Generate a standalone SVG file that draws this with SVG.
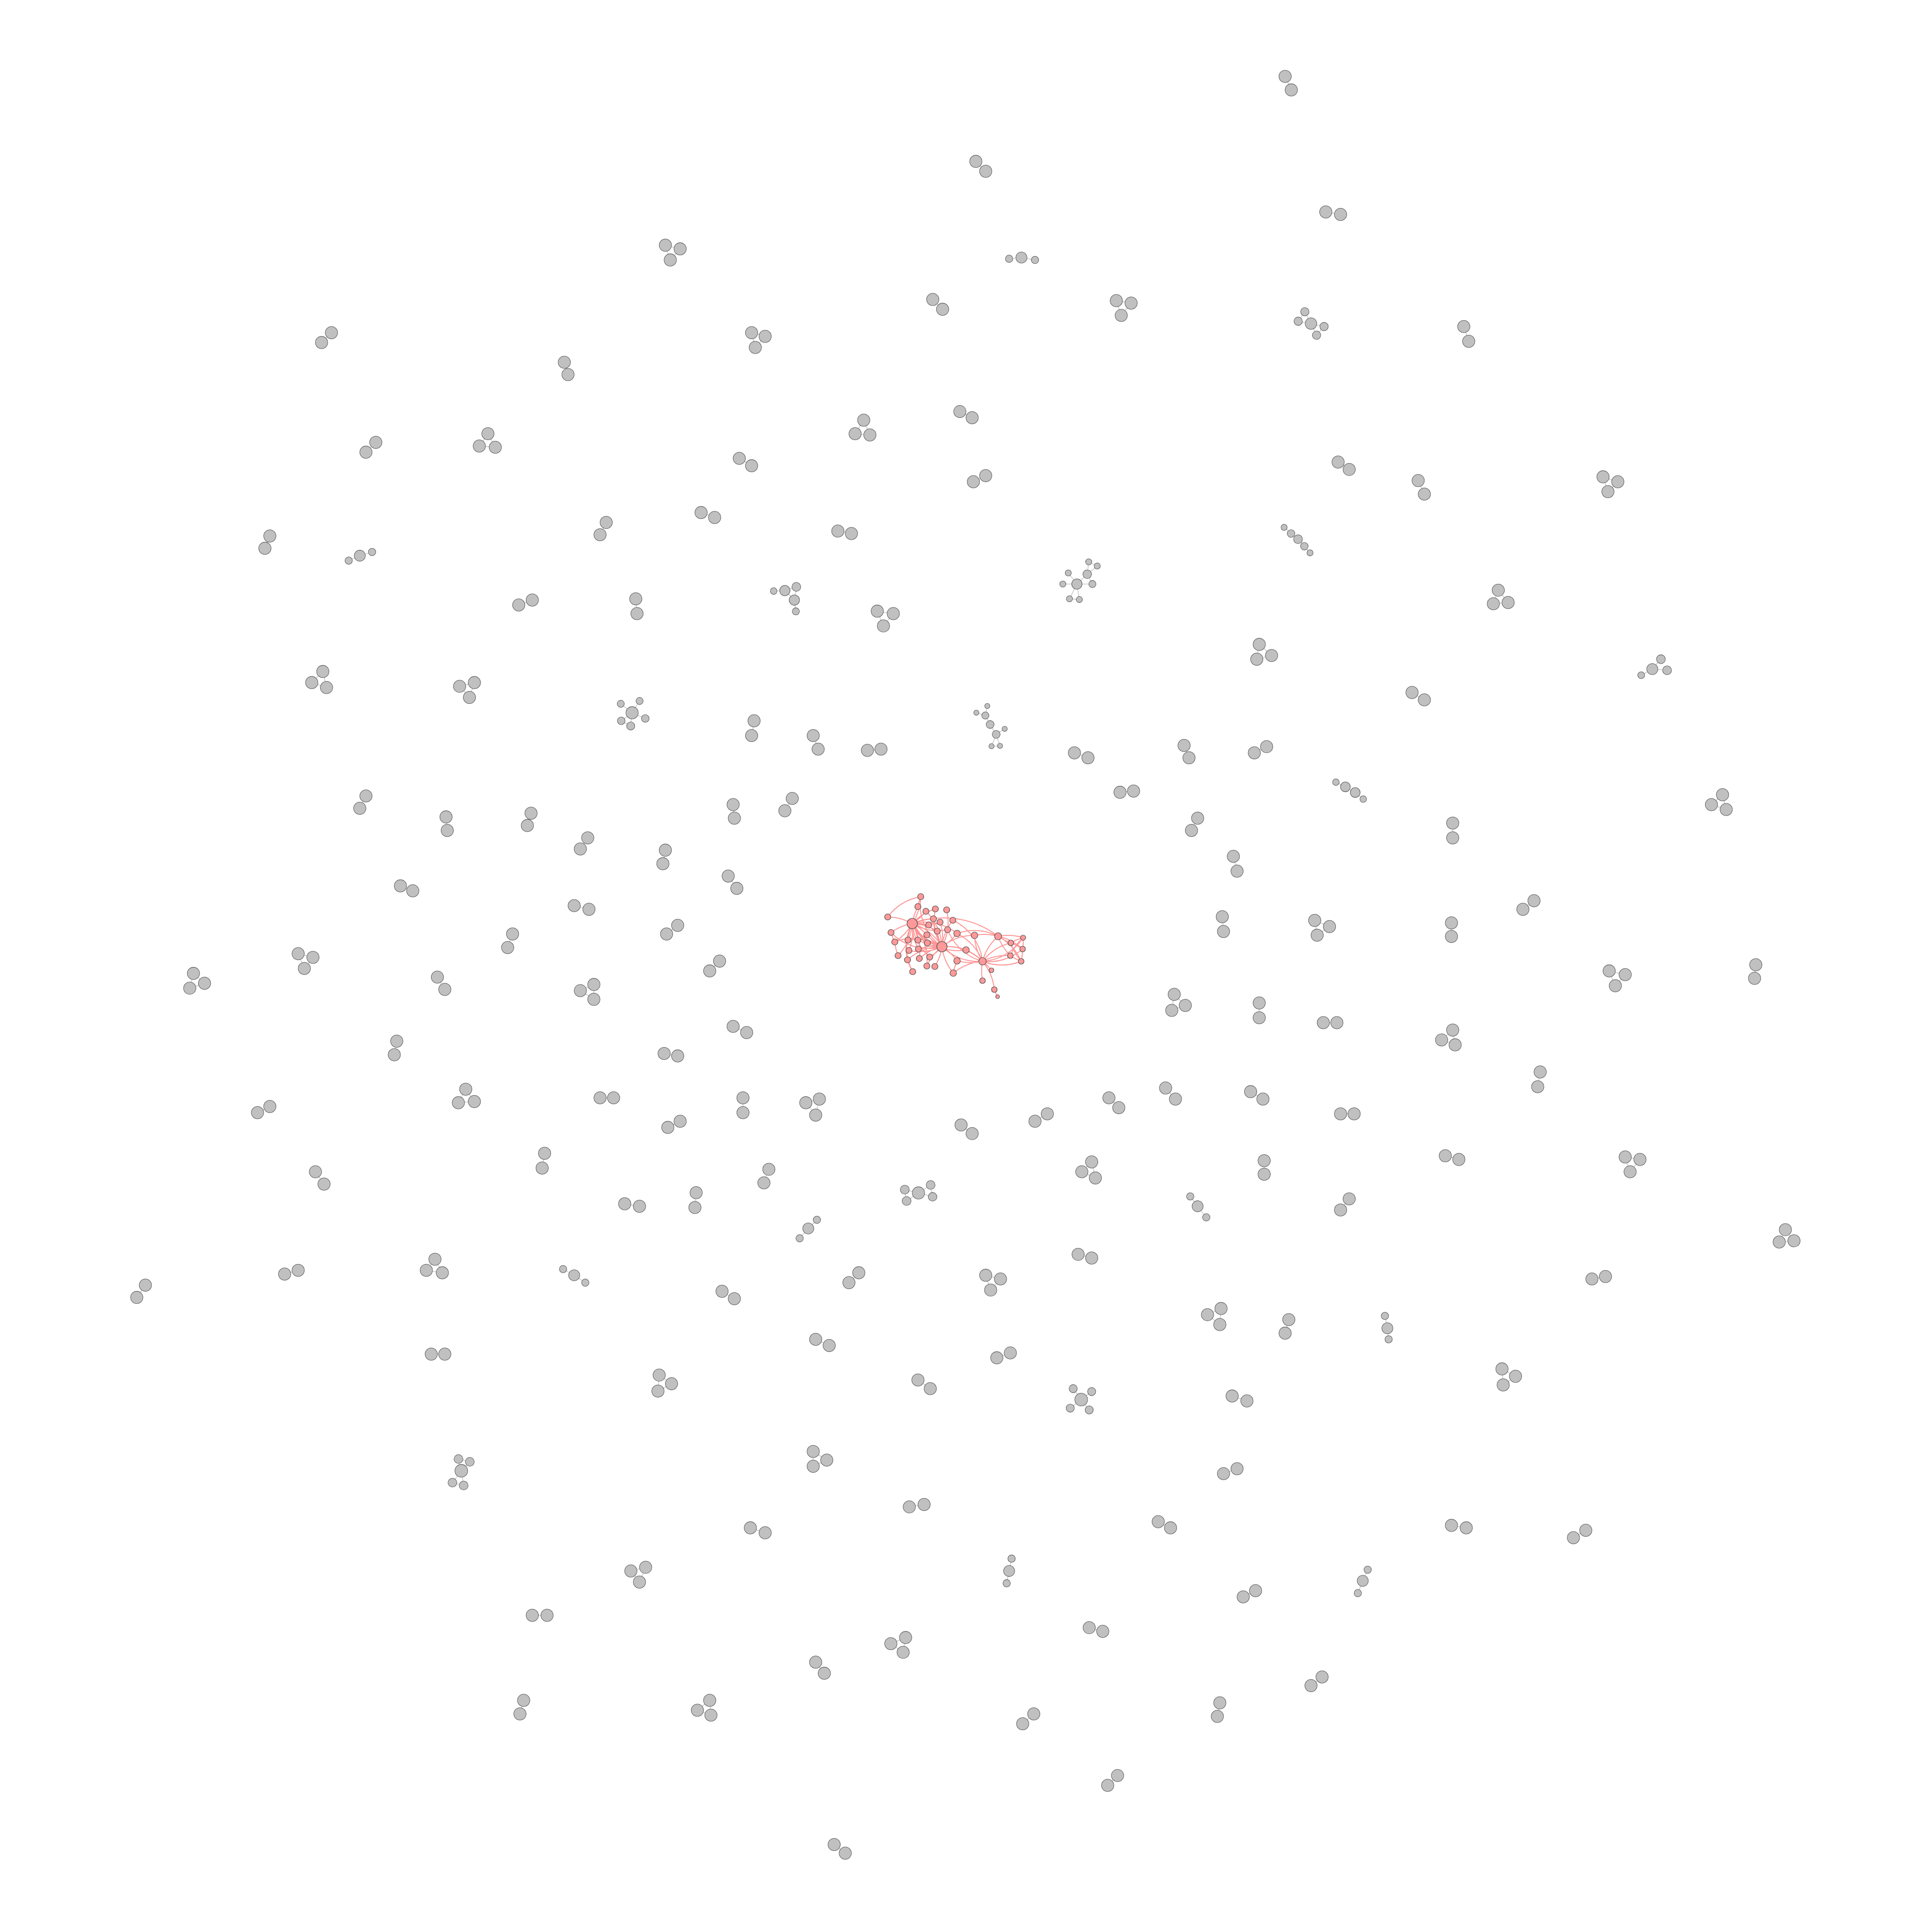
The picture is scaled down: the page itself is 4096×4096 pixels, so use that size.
<svg xmlns="http://www.w3.org/2000/svg" width="4096" height="4096" viewBox="0 0 4096 4096">
<style>
.g{fill:#c0c0c0;stroke:#5a5a5a;stroke-width:0.4}
.ge{fill:none;stroke:#c8c8c8;stroke-width:0.6}
.r{fill:#ff9999;stroke:#4a4a4a;stroke-width:1.2}
.re{fill:none;stroke:#ff9494;stroke-width:2}
</style>
<rect width="4096" height="4096" fill="#ffffff"/>
<g id="connectors">
<g transform="scale(2.61224)">
<path class="ge" d="M1043 62L1048 73M792 131L800 139M1076 172L1088 174M540 199L552 202L544 211ZM819 210L829 209L840 211M906 244L918 246L910 256ZM757 243L765 251
M1059 253L1064 262.6L1053.6 260.7ZM1064 262.6L1074.6 265L1068.5 272ZM1188 265L1192 277M269 270L261 278M610 270L621 273L613 282ZM458 294L461 304M779 334L789 339M701 341L694 352L706 353ZM396 352L389 362L402 363ZM305 359L297 367M600 372L610 378M1086 375L1095 381M800 386L790 391M1151 390L1156 401M1301 387L1313 391L1305 399ZM569 416L580 420M492 424L487 434M680 431L691 433M219 435L215 445M283 455L292 451L302 448
M1042.2 428L1047.8 433L1053.5 437.6L1058.6 443.3L1063.2 448.7
M874 474L867 465M874 474L862.6 474M874 474L886.6 474M874 474L882.4 466M874 474L868 486L876 486.6L874 474M882.4 466L883.6 456L890.5 459.4L882.4 466L886.6 474
M627.9 479.7L637 479.3L646.3 476.3L644.7 487L637 479.3M644.7 487L645.9 496.2
M421 491L432 487M516 486L517 498M712 496L725 498L717 508ZM1216 479L1212 490L1224 489ZM1022 523L1020 535L1032 532ZM262 545L253 554L265 558ZM373 557L385 554L381 566ZM1348 535L1341 543L1353 544M1341 543L1332 548M1146 562L1156 568
M513 578.5L503.8 571.2M513 578.5L519.1 568.9M513 578.5L523.7 583.1M513 578.5L504.2 585L511.9 589.2L513 578.5
M801.3 573L799.7 580.7L792.4 578.4M799.7 580.7L803.6 588L808.5 596L815.4 591.5M808.5 596L804.7 605.6L811.6 605.3L808.5 596
M612 585L610 597M660 597L664 608M704 609L715 608M872 611L883 615M961 605L965 615M1018 611L1028 606M909 643L920 642
M1084.2 634.8L1091.9 638.6L1099.9 643.2L1106.4 648.5
M1398 645L1389 653L1401 657ZM297 646L292 656M431 660L428 670M362 663L363 674M595 653L596 664M643 648L637 658M477 680L471 689M540 690L538 701M972 664L967 674M1179 668L1179 680M1001 695L1004 707M325 719L335 723M591 711L598 721M466 735L478 738M1245 731L1236 738M550 751L541 758M416 758L412 769M992 744L993 756M1067 747L1079 752L1069 759ZM1178 749L1178 760M242 774L254 777L247 786ZM157 790L154 802L166 798ZM355 793L361 803M584 780L576 788M471 804L482 799L482 811ZM1425 783L1424 794M1306 788L1319 791L1311 800ZM953 807L951 820L962 816ZM1022 814L1022 826M595 833L606 838M1074 830L1085 830M1179 836L1170 844L1181 848ZM322 845L320 856M539 855L550 857M1250 870L1248 882M378 884L372 895L385 894ZM219 898L209 903M487 891L498 891M603 891L603 903M654 895L665 892L662 905ZM946 883L954 892M900 891L908 899M1015 886L1025 892M780 913L789 920M850 904L840 910M1088 904L1099 904M542 915L552 910M1173 938L1184 941M1319 939L1331 941L1323 951ZM442 936L440 948M256 951L263 961M624 949L620 960M886 943L878 951L889 956ZM1026 942L1026 953
M734.3 965.5L745.4 968.2L755.3 961.7L756.9 971.3L745.4 968.2L735.8 974.7L734.3 965.5
M507 977L519 979M565 968L564 980M966 971L972 979L979 988M1095 973L1088 982M663 990L656 997L649 1005M1449 998L1444 1008L1456 1007ZM242 1031L231 1034M353 1022L346 1031L359 1033ZM457 1030L466 1035L475 1041M118 1043L111 1053M697 1033L689 1041M800 1035L812 1038L804 1047ZM875 1018L886 1021M1292 1038L1303 1036M586 1048L596 1054M980 1067L991 1062L990 1075ZM1046 1071L1043 1082M1124 1068L1126 1078L1127 1087M662 1087L673 1092M350 1099L361 1099M809 1102L820 1098M1219 1111L1230 1117L1220 1124ZM535 1116L545 1123L534 1129ZM745 1120L755 1127
M877.5 1135.9L871 1127M877.5 1135.9L886 1129.4M877.5 1135.9L868.6 1142.8M877.5 1135.9L884 1144.3
M1000 1133L1012 1137
M372.1 1184.1L381.3 1186.4L374.4 1193.7ZM374.4 1193.7L367.2 1203.3L376.3 1205.6Z
M660 1178L671 1185L660 1190ZM993 1196L1004 1192M738 1223L750 1221M940 1235L950 1240M609 1240L621 1244M1178 1238L1190 1240M1287 1242L1277 1248M821 1265L819 1275L817 1285M1110 1274L1106 1283L1102 1293M524 1272L512 1275L519 1284ZM1009 1296L1019 1291M432 1311L444 1311M884 1321L895 1324M735 1329L723 1334L733 1341ZM662 1349L669 1358M1073 1361L1064 1368M425 1380L422 1391M576 1380L566 1388L577 1392ZM990 1382L988 1393M839 1391L830 1399M907 1441L899 1449M677 1497L686 1504"/>
</g>
<g id="red-edges" class="re">
<path d="M1934 1958A110 110 0 0 0 1952 1901M1934 1958A110 110 0 0 1 1946 1922M1934 1958A110 110 0 0 0 1963 1932M1934 1958A110 110 0 0 1 1983 1927M1934 1958A110 110 0 0 0 1882 1944M1934 1958A110 110 0 0 1 1979 1948M1934 1958A110 110 0 0 0 1993 1955M1934 1958A110 110 0 0 1 1969 1961M1934 1958A110 110 0 0 0 1889 1977M1934 1958A110 110 0 0 1 1987 1974M1934 1958A110 110 0 0 0 2009 1971M1934 1958A110 110 0 0 1 1965 1982M1934 1958A110 110 0 0 1 1897 1997M1934 1958A110 110 0 0 0 1925 1993M1934 1958A110 110 0 0 1 1946 1993M1934 1958A110 110 0 0 0 1966 1999M1934 1958A110 110 0 0 1 1997 2007M1934 1958A110 110 0 0 0 1997 2007M1934 1958A110 110 0 0 1 1927 2015M1934 1958A110 110 0 0 0 1947 2012M1934 1958A110 110 0 0 1 1904 2026M1934 1958A110 110 0 0 0 1971 2029M1934 1958A110 110 0 0 1 1949 2032M1934 1958A110 110 0 0 0 1924 2035M1934 1958A110 110 0 0 1 1965 2048M1934 1958A110 110 0 0 0 1935 2060M1934 1958A110 110 0 0 1 2029 1979M1934 1958A110 110 0 0 0 2048 2014"/>
<path d="M1997 2007A110 110 0 0 1 1952 1901M1997 2007A110 110 0 0 0 1963 1932M1997 2007A110 110 0 0 1 1983 1927M1997 2007A110 110 0 0 0 2007 1929M1997 2007A110 110 0 0 1 1979 1948M1997 2007A110 110 0 0 0 1993 1955M1997 2007A110 110 0 0 1 2020 1951M1997 2007A110 110 0 0 0 1969 1961M1997 2007A110 110 0 0 1 1987 1974M1997 2007A110 110 0 0 0 2009 1971M1997 2007A110 110 0 0 1 1965 1982M1997 2007A110 110 0 0 0 2029 1979M1997 2007A110 110 0 0 1 2066 1983M1997 2007A110 110 0 0 0 1925 1993M1997 2007A110 110 0 0 1 1946 1993M1997 2007A110 110 0 0 0 1966 1999M1997 2007A110 110 0 0 1 2048 2014M1997 2007A110 110 0 0 0 1947 2012M1997 2007A110 110 0 0 1 1971 2029M1997 2007A110 110 0 0 0 1949 2032M1997 2007A110 110 0 0 1 2029 2037M1997 2007A110 110 0 0 0 1965 2048M1997 2007A110 110 0 0 1 1982 2049M1997 2007A110 110 0 0 0 2021 2063M1997 2007A110 110 0 0 1 2083 2038M1997 2007A110 110 0 0 0 2083 2038M1997 2007A110 110 0 0 1 1927 2015M1997 2007A110 110 0 0 0 1924 2035M1997 2007A110 110 0 0 1 1889 1977M1997 2007A110 110 0 0 0 1897 1997"/>
<path d="M2083 2038A110 110 0 0 0 2029 1979M2083 2038A110 110 0 0 1 2066 1983M2083 2038A110 110 0 0 0 2048 2014M2083 2038A110 110 0 0 1 2029 2037M2083 2038A110 110 0 0 0 2021 2063M2083 2038A110 110 0 0 1 2116 1985M2083 2038A110 110 0 0 0 2169 1988M2083 2038A110 110 0 0 1 2143 1999M2083 2038A110 110 0 0 0 2168 2012M2083 2038A110 110 0 0 1 2142 2026M2083 2038A110 110 0 0 0 2165 2038M2083 2038A110 110 0 0 1 2102 2057M2083 2038A110 110 0 0 0 2083 2079M2083 2038A110 110 0 0 1 2108 2098M2083 2038A110 110 0 0 0 2020 1951M2083 2038A110 110 0 0 1 2009 1971"/>
<path d="M2116 1985A110 110 0 0 0 2029 1979M2116 1985A110 110 0 0 0 2066 1983M2116 1985A110 110 0 0 1 2169 1988M2116 1985A110 110 0 0 0 2143 1999M2116 1985A110 110 0 0 1 2168 2012M2116 1985A110 110 0 0 0 2142 2026M2116 1985A110 110 0 0 1 2165 2038M1934 1958A190 190 0 0 1 2116 1985M1882 1944A110 110 0 0 1 1952 1901M2169 1988A110 110 0 0 1 2168 2012M2143 1999A110 110 0 0 0 2165 2038M2169 1988A110 110 0 0 0 2142 2026M2168 2012A110 110 0 0 1 2165 2038M2143 1999A110 110 0 0 1 2168 2012M2169 1988A110 110 0 0 0 2143 1999M2142 2026A110 110 0 0 0 2165 2038M2108 2098A110 110 0 0 0 2115 2113M1889 1977A110 110 0 0 0 1897 1997M1897 1997A110 110 0 0 0 1904 2026M1924 2035A110 110 0 0 0 1935 2060M2021 2063A110 110 0 0 1 2029 2037M1946 1922A110 110 0 0 1 1952 1901"/>
</g>
</g>
<g id="red-cluster" class="r">
<circle id="r1" cx="1952" cy="1901" r="6.5"/>
<circle id="r2" cx="1946" cy="1922" r="6.5"/>
<circle id="r3" cx="1963" cy="1932" r="6.5"/>
<circle id="r4" cx="1983" cy="1927" r="6.5"/>
<circle id="r5" cx="2007" cy="1929" r="6.5"/>
<circle id="r6" cx="1882" cy="1944" r="6.5"/>
<circle id="rA" cx="1934" cy="1958" r="11"/>
<circle id="r8" cx="1979" cy="1948" r="6.5"/>
<circle id="r9" cx="1993" cy="1955" r="6.5"/>
<circle id="r10" cx="2020" cy="1951" r="6.5"/>
<circle id="r11" cx="1969" cy="1961" r="6.5"/>
<circle id="r12" cx="1889" cy="1977" r="6.5"/>
<circle id="r13" cx="1987" cy="1974" r="6.5"/>
<circle id="r14" cx="2009" cy="1971" r="6.5"/>
<circle id="r15" cx="1965" cy="1982" r="6.5"/>
<circle id="r16" cx="2029" cy="1979" r="7"/>
<circle id="r17" cx="2066" cy="1983" r="7"/>
<circle id="rD" cx="2116" cy="1985" r="7.5"/>
<circle id="rE1" cx="2169" cy="1988" r="5.5"/>
<circle id="rE2" cx="2143" cy="1999" r="6"/>
<circle id="r21" cx="1897" cy="1997" r="6.5"/>
<circle id="r22" cx="1925" cy="1993" r="6.5"/>
<circle id="r23" cx="1946" cy="1993" r="6.5"/>
<circle id="r24" cx="1966" cy="1999" r="6.5"/>
<circle id="rB" cx="1997" cy="2007" r="11"/>
<circle id="rE3" cx="2168" cy="2012" r="6"/>
<circle id="r27" cx="2048" cy="2014" r="7"/>
<circle id="r28" cx="1927" cy="2015" r="6.5"/>
<circle id="r29" cx="1947" cy="2012" r="6.5"/>
<circle id="rE4" cx="2142" cy="2026" r="6"/>
<circle id="r31" cx="1904" cy="2026" r="6.5"/>
<circle id="r32" cx="1971" cy="2029" r="6.5"/>
<circle id="r33" cx="1949" cy="2032" r="6.5"/>
<circle id="r34" cx="1924" cy="2035" r="6.5"/>
<circle id="r35" cx="2029" cy="2037" r="7"/>
<circle id="rC" cx="2083" cy="2038" r="8"/>
<circle id="rE5" cx="2165" cy="2038" r="6"/>
<circle id="r38" cx="1965" cy="2048" r="6.5"/>
<circle id="r39" cx="1982" cy="2049" r="6.5"/>
<circle id="r40" cx="2102" cy="2057" r="5"/>
<circle id="r41" cx="1935" cy="2060" r="6.5"/>
<circle id="r42" cx="2021" cy="2063" r="7"/>
<circle id="r43" cx="2083" cy="2079" r="6"/>
<circle id="r44" cx="2108" cy="2098" r="6"/>
<circle id="r45" cx="2115" cy="2113" r="4"/>
</g>
<g id="gray-clusters" class="g" transform="scale(2.61224)">
<g id="c1"><circle cx="1043" cy="62" r="5"/><circle cx="1048" cy="73" r="5"/></g>
<g id="c2"><circle cx="792" cy="131" r="5"/><circle cx="800" cy="139" r="5"/></g>
<g id="c3"><circle cx="1076" cy="172" r="5"/><circle cx="1088" cy="174" r="5"/></g>
<g id="c4"><circle cx="540" cy="199" r="5"/><circle cx="552" cy="202" r="5"/><circle cx="544" cy="211" r="5"/></g>
<g id="c5"><circle cx="819" cy="210" r="3"/><circle cx="829" cy="209" r="4.5"/><circle cx="840" cy="211" r="3"/></g>
<g id="c6"><circle cx="906" cy="244" r="5"/><circle cx="918" cy="246" r="5"/><circle cx="910" cy="256" r="5"/></g>
<g id="c7"><circle cx="757" cy="243" r="5"/><circle cx="765" cy="251" r="5"/></g>
<g id="c8"><circle cx="1059" cy="253" r="3.4"/><circle cx="1053.6" cy="260.7" r="3.4"/><circle cx="1064" cy="262.6" r="4.7"/><circle cx="1074.6" cy="265" r="3.4"/><circle cx="1068.5" cy="272" r="3.4"/></g>
<g id="c9"><circle cx="1188" cy="265" r="5"/><circle cx="1192" cy="277" r="5"/></g>
<g id="c10"><circle cx="269" cy="270" r="5"/><circle cx="261" cy="278" r="5"/></g>
<g id="c11"><circle cx="610" cy="270" r="5"/><circle cx="621" cy="273" r="5"/><circle cx="613" cy="282" r="5"/></g>
<g id="c12"><circle cx="458" cy="294" r="5"/><circle cx="461" cy="304" r="5"/></g>
<g id="c13"><circle cx="779" cy="334" r="5"/><circle cx="789" cy="339" r="5"/></g>
<g id="c14"><circle cx="701" cy="341" r="5"/><circle cx="694" cy="352" r="5"/><circle cx="706" cy="353" r="5"/></g>
<g id="c15"><circle cx="396" cy="352" r="5"/><circle cx="389" cy="362" r="5"/><circle cx="402" cy="363" r="5"/></g>
<g id="c16"><circle cx="305" cy="359" r="5"/><circle cx="297" cy="367" r="5"/></g>
<g id="c17"><circle cx="600" cy="372" r="5"/><circle cx="610" cy="378" r="5"/></g>
<g id="c18"><circle cx="1086" cy="375" r="5"/><circle cx="1095" cy="381" r="5"/></g>
<g id="c19"><circle cx="800" cy="386" r="5"/><circle cx="790" cy="391" r="5"/></g>
<g id="c20"><circle cx="1151" cy="390" r="5"/><circle cx="1156" cy="401" r="5"/></g>
<g id="c21"><circle cx="1301" cy="387" r="5"/><circle cx="1313" cy="391" r="5"/><circle cx="1305" cy="399" r="5"/></g>
<g id="c22"><circle cx="569" cy="416" r="5"/><circle cx="580" cy="420" r="5"/></g>
<g id="c23"><circle cx="492" cy="424" r="5"/><circle cx="487" cy="434" r="5"/></g>
<g id="c24"><circle cx="680" cy="431" r="5"/><circle cx="691" cy="433" r="5"/></g>
<g id="c25"><circle cx="219" cy="435" r="5"/><circle cx="215" cy="445" r="5"/></g>
<g id="c26"><circle cx="283" cy="455" r="3"/><circle cx="292" cy="451" r="4.5"/><circle cx="302" cy="448" r="3"/></g>
<g id="c27"><circle cx="1042.2" cy="428" r="2.5"/><circle cx="1047.8" cy="433" r="3.1"/><circle cx="1053.5" cy="437.6" r="3.6"/><circle cx="1058.6" cy="443.3" r="3.1"/><circle cx="1063.2" cy="448.7" r="2.5"/></g>
<g id="c28"><circle cx="883.6" cy="456" r="2.5"/><circle cx="890.5" cy="459.4" r="2.5"/><circle cx="867" cy="465" r="2.5"/><circle cx="882.4" cy="466" r="3.5"/><circle cx="862.6" cy="474" r="2.5"/><circle cx="874" cy="474" r="4.2"/><circle cx="886.6" cy="474" r="2.9"/><circle cx="868" cy="486" r="2.5"/><circle cx="876" cy="486.6" r="2.5"/></g>
<g id="c29"><circle cx="627.9" cy="479.7" r="2.7"/><circle cx="637" cy="479.3" r="4.2"/><circle cx="646.3" cy="476.3" r="3.6"/><circle cx="644.7" cy="487" r="4.2"/><circle cx="645.9" cy="496.2" r="2.9"/></g>
<g id="c30"><circle cx="421" cy="491" r="5"/><circle cx="432" cy="487" r="5"/></g>
<g id="c31"><circle cx="516" cy="486" r="5"/><circle cx="517" cy="498" r="5"/></g>
<g id="c32"><circle cx="712" cy="496" r="5"/><circle cx="725" cy="498" r="5"/><circle cx="717" cy="508" r="5"/></g>
<g id="c33"><circle cx="1216" cy="479" r="5"/><circle cx="1212" cy="490" r="5"/><circle cx="1224" cy="489" r="5"/></g>
<g id="c34"><circle cx="1022" cy="523" r="5"/><circle cx="1020" cy="535" r="5"/><circle cx="1032" cy="532" r="5"/></g>
<g id="c35"><circle cx="262" cy="545" r="5"/><circle cx="253" cy="554" r="5"/><circle cx="265" cy="558" r="5"/></g>
<g id="c36"><circle cx="373" cy="557" r="5"/><circle cx="385" cy="554" r="5"/><circle cx="381" cy="566" r="5"/></g>
<g id="c37"><circle cx="1348" cy="535" r="3.6"/><circle cx="1341" cy="543" r="4.5"/><circle cx="1353" cy="544" r="3.6"/><circle cx="1332" cy="548" r="2.8"/></g>
<g id="c38"><circle cx="1146" cy="562" r="5"/><circle cx="1156" cy="568" r="5"/></g>
<g id="c39"><circle cx="503.8" cy="571.2" r="2.9"/><circle cx="519.1" cy="568.9" r="2.9"/><circle cx="513" cy="578.5" r="5"/><circle cx="523.7" cy="583.1" r="3.1"/><circle cx="504.2" cy="585" r="3.1"/><circle cx="511.9" cy="589.2" r="3.3"/></g>
<g id="c40"><circle cx="801.3" cy="573" r="2.1"/><circle cx="792.4" cy="578.4" r="2.1"/><circle cx="799.7" cy="580.7" r="2.9"/><circle cx="803.6" cy="588" r="3.2"/><circle cx="815.4" cy="591.5" r="2.1"/><circle cx="808.5" cy="596" r="3.2"/><circle cx="804.7" cy="605.6" r="2.1"/><circle cx="811.6" cy="605.3" r="2.1"/></g>
<g id="c41"><circle cx="612" cy="585" r="5"/><circle cx="610" cy="597" r="5"/></g>
<g id="c42"><circle cx="660" cy="597" r="5"/><circle cx="664" cy="608" r="5"/></g>
<g id="c43"><circle cx="704" cy="609" r="5"/><circle cx="715" cy="608" r="5"/></g>
<g id="c44"><circle cx="872" cy="611" r="5"/><circle cx="883" cy="615" r="5"/></g>
<g id="c45"><circle cx="961" cy="605" r="5"/><circle cx="965" cy="615" r="5"/></g>
<g id="c46"><circle cx="1018" cy="611" r="5"/><circle cx="1028" cy="606" r="5"/></g>
<g id="c47"><circle cx="909" cy="643" r="5"/><circle cx="920" cy="642" r="5"/></g>
<g id="c48"><circle cx="1084.2" cy="634.8" r="2.7"/><circle cx="1091.9" cy="638.6" r="4"/><circle cx="1099.9" cy="643.2" r="4"/><circle cx="1106.4" cy="648.5" r="2.7"/></g>
<g id="c49"><circle cx="1398" cy="645" r="5"/><circle cx="1389" cy="653" r="5"/><circle cx="1401" cy="657" r="5"/></g>
<g id="c50"><circle cx="297" cy="646" r="5"/><circle cx="292" cy="656" r="5"/></g>
<g id="c51"><circle cx="431" cy="660" r="5"/><circle cx="428" cy="670" r="5"/></g>
<g id="c52"><circle cx="362" cy="663" r="5"/><circle cx="363" cy="674" r="5"/></g>
<g id="c53"><circle cx="595" cy="653" r="5"/><circle cx="596" cy="664" r="5"/></g>
<g id="c54"><circle cx="643" cy="648" r="5"/><circle cx="637" cy="658" r="5"/></g>
<g id="c55"><circle cx="477" cy="680" r="5"/><circle cx="471" cy="689" r="5"/></g>
<g id="c56"><circle cx="540" cy="690" r="5"/><circle cx="538" cy="701" r="5"/></g>
<g id="c57"><circle cx="972" cy="664" r="5"/><circle cx="967" cy="674" r="5"/></g>
<g id="c58"><circle cx="1179" cy="668" r="5"/><circle cx="1179" cy="680" r="5"/></g>
<g id="c59"><circle cx="1001" cy="695" r="5"/><circle cx="1004" cy="707" r="5"/></g>
<g id="c60"><circle cx="325" cy="719" r="5"/><circle cx="335" cy="723" r="5"/></g>
<g id="c61"><circle cx="591" cy="711" r="5"/><circle cx="598" cy="721" r="5"/></g>
<g id="c62"><circle cx="466" cy="735" r="5"/><circle cx="478" cy="738" r="5"/></g>
<g id="c63"><circle cx="1245" cy="731" r="5"/><circle cx="1236" cy="738" r="5"/></g>
<g id="c64"><circle cx="550" cy="751" r="5"/><circle cx="541" cy="758" r="5"/></g>
<g id="c65"><circle cx="416" cy="758" r="5"/><circle cx="412" cy="769" r="5"/></g>
<g id="c66"><circle cx="992" cy="744" r="5"/><circle cx="993" cy="756" r="5"/></g>
<g id="c67"><circle cx="1067" cy="747" r="5"/><circle cx="1079" cy="752" r="5"/><circle cx="1069" cy="759" r="5"/></g>
<g id="c68"><circle cx="1178" cy="749" r="5"/><circle cx="1178" cy="760" r="5"/></g>
<g id="c69"><circle cx="242" cy="774" r="5"/><circle cx="254" cy="777" r="5"/><circle cx="247" cy="786" r="5"/></g>
<g id="c70"><circle cx="157" cy="790" r="5"/><circle cx="154" cy="802" r="5"/><circle cx="166" cy="798" r="5"/></g>
<g id="c71"><circle cx="355" cy="793" r="5"/><circle cx="361" cy="803" r="5"/></g>
<g id="c72"><circle cx="584" cy="780" r="5"/><circle cx="576" cy="788" r="5"/></g>
<g id="c73"><circle cx="471" cy="804" r="5"/><circle cx="482" cy="799" r="5"/><circle cx="482" cy="811" r="5"/></g>
<g id="c74"><circle cx="1425" cy="783" r="5"/><circle cx="1424" cy="794" r="5"/></g>
<g id="c75"><circle cx="1306" cy="788" r="5"/><circle cx="1319" cy="791" r="5"/><circle cx="1311" cy="800" r="5"/></g>
<g id="c76"><circle cx="953" cy="807" r="5"/><circle cx="951" cy="820" r="5"/><circle cx="962" cy="816" r="5"/></g>
<g id="c77"><circle cx="1022" cy="814" r="5"/><circle cx="1022" cy="826" r="5"/></g>
<g id="c78"><circle cx="595" cy="833" r="5"/><circle cx="606" cy="838" r="5"/></g>
<g id="c79"><circle cx="1074" cy="830" r="5"/><circle cx="1085" cy="830" r="5"/></g>
<g id="c80"><circle cx="1179" cy="836" r="5"/><circle cx="1170" cy="844" r="5"/><circle cx="1181" cy="848" r="5"/></g>
<g id="c81"><circle cx="322" cy="845" r="5"/><circle cx="320" cy="856" r="5"/></g>
<g id="c82"><circle cx="539" cy="855" r="5"/><circle cx="550" cy="857" r="5"/></g>
<g id="c83"><circle cx="1250" cy="870" r="5"/><circle cx="1248" cy="882" r="5"/></g>
<g id="c84"><circle cx="378" cy="884" r="5"/><circle cx="372" cy="895" r="5"/><circle cx="385" cy="894" r="5"/></g>
<g id="c85"><circle cx="219" cy="898" r="5"/><circle cx="209" cy="903" r="5"/></g>
<g id="c86"><circle cx="487" cy="891" r="5"/><circle cx="498" cy="891" r="5"/></g>
<g id="c87"><circle cx="603" cy="891" r="5"/><circle cx="603" cy="903" r="5"/></g>
<g id="c88"><circle cx="654" cy="895" r="5"/><circle cx="665" cy="892" r="5"/><circle cx="662" cy="905" r="5"/></g>
<g id="c89"><circle cx="946" cy="883" r="5"/><circle cx="954" cy="892" r="5"/></g>
<g id="c90"><circle cx="900" cy="891" r="5"/><circle cx="908" cy="899" r="5"/></g>
<g id="c91"><circle cx="1015" cy="886" r="5"/><circle cx="1025" cy="892" r="5"/></g>
<g id="c92"><circle cx="780" cy="913" r="5"/><circle cx="789" cy="920" r="5"/></g>
<g id="c93"><circle cx="850" cy="904" r="5"/><circle cx="840" cy="910" r="5"/></g>
<g id="c94"><circle cx="1088" cy="904" r="5"/><circle cx="1099" cy="904" r="5"/></g>
<g id="c95"><circle cx="542" cy="915" r="5"/><circle cx="552" cy="910" r="5"/></g>
<g id="c96"><circle cx="1173" cy="938" r="5"/><circle cx="1184" cy="941" r="5"/></g>
<g id="c97"><circle cx="1319" cy="939" r="5"/><circle cx="1331" cy="941" r="5"/><circle cx="1323" cy="951" r="5"/></g>
<g id="c98"><circle cx="442" cy="936" r="5"/><circle cx="440" cy="948" r="5"/></g>
<g id="c99"><circle cx="256" cy="951" r="5"/><circle cx="263" cy="961" r="5"/></g>
<g id="c100"><circle cx="624" cy="949" r="5"/><circle cx="620" cy="960" r="5"/></g>
<g id="c101"><circle cx="886" cy="943" r="5"/><circle cx="878" cy="951" r="5"/><circle cx="889" cy="956" r="5"/></g>
<g id="c102"><circle cx="1026" cy="942" r="5"/><circle cx="1026" cy="953" r="5"/></g>
<g id="c103"><circle cx="734.3" cy="965.5" r="3.6"/><circle cx="745.4" cy="968.2" r="5"/><circle cx="755.3" cy="961.7" r="3.6"/><circle cx="756.9" cy="971.3" r="3.5"/><circle cx="735.8" cy="974.7" r="3.6"/></g>
<g id="c104"><circle cx="507" cy="977" r="5"/><circle cx="519" cy="979" r="5"/></g>
<g id="c105"><circle cx="565" cy="968" r="5"/><circle cx="564" cy="980" r="5"/></g>
<g id="c106"><circle cx="966" cy="971" r="3"/><circle cx="972" cy="979" r="4.5"/><circle cx="979" cy="988" r="3"/></g>
<g id="c107"><circle cx="1095" cy="973" r="5"/><circle cx="1088" cy="982" r="5"/></g>
<g id="c108"><circle cx="663" cy="990" r="3"/><circle cx="656" cy="997" r="4.5"/><circle cx="649" cy="1005" r="3"/></g>
<g id="c109"><circle cx="1449" cy="998" r="5"/><circle cx="1444" cy="1008" r="5"/><circle cx="1456" cy="1007" r="5"/></g>
<g id="c110"><circle cx="242" cy="1031" r="5"/><circle cx="231" cy="1034" r="5"/></g>
<g id="c111"><circle cx="353" cy="1022" r="5"/><circle cx="346" cy="1031" r="5"/><circle cx="359" cy="1033" r="5"/></g>
<g id="c112"><circle cx="457" cy="1030" r="3"/><circle cx="466" cy="1035" r="4.5"/><circle cx="475" cy="1041" r="3"/></g>
<g id="c113"><circle cx="118" cy="1043" r="5"/><circle cx="111" cy="1053" r="5"/></g>
<g id="c114"><circle cx="697" cy="1033" r="5"/><circle cx="689" cy="1041" r="5"/></g>
<g id="c115"><circle cx="800" cy="1035" r="5"/><circle cx="812" cy="1038" r="5"/><circle cx="804" cy="1047" r="5"/></g>
<g id="c116"><circle cx="875" cy="1018" r="5"/><circle cx="886" cy="1021" r="5"/></g>
<g id="c117"><circle cx="1292" cy="1038" r="5"/><circle cx="1303" cy="1036" r="5"/></g>
<g id="c118"><circle cx="586" cy="1048" r="5"/><circle cx="596" cy="1054" r="5"/></g>
<g id="c119"><circle cx="980" cy="1067" r="5"/><circle cx="991" cy="1062" r="5"/><circle cx="990" cy="1075" r="5"/></g>
<g id="c120"><circle cx="1046" cy="1071" r="5"/><circle cx="1043" cy="1082" r="5"/></g>
<g id="c121"><circle cx="1124" cy="1068" r="3"/><circle cx="1126" cy="1078" r="4.5"/><circle cx="1127" cy="1087" r="3"/></g>
<g id="c122"><circle cx="662" cy="1087" r="5"/><circle cx="673" cy="1092" r="5"/></g>
<g id="c123"><circle cx="350" cy="1099" r="5"/><circle cx="361" cy="1099" r="5"/></g>
<g id="c124"><circle cx="809" cy="1102" r="5"/><circle cx="820" cy="1098" r="5"/></g>
<g id="c125"><circle cx="1219" cy="1111" r="5"/><circle cx="1230" cy="1117" r="5"/><circle cx="1220" cy="1124" r="5"/></g>
<g id="c126"><circle cx="535" cy="1116" r="5"/><circle cx="545" cy="1123" r="5"/><circle cx="534" cy="1129" r="5"/></g>
<g id="c127"><circle cx="745" cy="1120" r="5"/><circle cx="755" cy="1127" r="5"/></g>
<g id="c128"><circle cx="871" cy="1127" r="3.3"/><circle cx="886" cy="1129.4" r="3.3"/><circle cx="877.5" cy="1135.9" r="5.2"/><circle cx="868.6" cy="1142.8" r="3.3"/><circle cx="884" cy="1144.3" r="3.3"/></g>
<g id="c129"><circle cx="1000" cy="1133" r="5"/><circle cx="1012" cy="1137" r="5"/></g>
<g id="c130"><circle cx="372.1" cy="1184.1" r="3.6"/><circle cx="381.3" cy="1186.4" r="3.6"/><circle cx="374.4" cy="1193.7" r="5.2"/><circle cx="367.2" cy="1203.3" r="3.6"/><circle cx="376.3" cy="1205.6" r="3.6"/></g>
<g id="c131"><circle cx="660" cy="1178" r="5"/><circle cx="671" cy="1185" r="5"/><circle cx="660" cy="1190" r="5"/></g>
<g id="c132"><circle cx="993" cy="1196" r="5"/><circle cx="1004" cy="1192" r="5"/></g>
<g id="c133"><circle cx="738" cy="1223" r="5"/><circle cx="750" cy="1221" r="5"/></g>
<g id="c134"><circle cx="940" cy="1235" r="5"/><circle cx="950" cy="1240" r="5"/></g>
<g id="c135"><circle cx="609" cy="1240" r="5"/><circle cx="621" cy="1244" r="5"/></g>
<g id="c136"><circle cx="1178" cy="1238" r="5"/><circle cx="1190" cy="1240" r="5"/></g>
<g id="c137"><circle cx="1287" cy="1242" r="5"/><circle cx="1277" cy="1248" r="5"/></g>
<g id="c138"><circle cx="821" cy="1265" r="3"/><circle cx="819" cy="1275" r="4.5"/><circle cx="817" cy="1285" r="3"/></g>
<g id="c139"><circle cx="1110" cy="1274" r="3"/><circle cx="1106" cy="1283" r="4.5"/><circle cx="1102" cy="1293" r="3"/></g>
<g id="c140"><circle cx="524" cy="1272" r="5"/><circle cx="512" cy="1275" r="5"/><circle cx="519" cy="1284" r="5"/></g>
<g id="c141"><circle cx="1009" cy="1296" r="5"/><circle cx="1019" cy="1291" r="5"/></g>
<g id="c142"><circle cx="432" cy="1311" r="5"/><circle cx="444" cy="1311" r="5"/></g>
<g id="c143"><circle cx="884" cy="1321" r="5"/><circle cx="895" cy="1324" r="5"/></g>
<g id="c144"><circle cx="735" cy="1329" r="5"/><circle cx="723" cy="1334" r="5"/><circle cx="733" cy="1341" r="5"/></g>
<g id="c145"><circle cx="662" cy="1349" r="5"/><circle cx="669" cy="1358" r="5"/></g>
<g id="c146"><circle cx="1073" cy="1361" r="5"/><circle cx="1064" cy="1368" r="5"/></g>
<g id="c147"><circle cx="425" cy="1380" r="5"/><circle cx="422" cy="1391" r="5"/></g>
<g id="c148"><circle cx="576" cy="1380" r="5"/><circle cx="566" cy="1388" r="5"/><circle cx="577" cy="1392" r="5"/></g>
<g id="c149"><circle cx="990" cy="1382" r="5"/><circle cx="988" cy="1393" r="5"/></g>
<g id="c150"><circle cx="839" cy="1391" r="5"/><circle cx="830" cy="1399" r="5"/></g>
<g id="c151"><circle cx="907" cy="1441" r="5"/><circle cx="899" cy="1449" r="5"/></g>
<g id="c152"><circle cx="677" cy="1497" r="5"/><circle cx="686" cy="1504" r="5"/></g>
</g>
</svg>
